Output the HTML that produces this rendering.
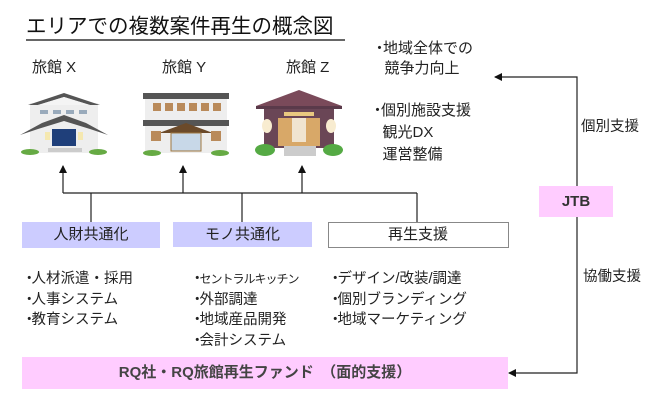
<!DOCTYPE html>
<html><head><meta charset="utf-8"><style>
body{margin:0;background:#fff;}
.t{position:absolute;font-family:"Liberation Sans","Noto Sans CJK JP",sans-serif;color:#222;white-space:nowrap;line-height:1;}
</style></head><body>
<div style="position:relative;width:672px;height:408px;overflow:hidden;">
<svg width="672" height="408" style="position:absolute;left:0;top:0">
<defs><marker id="a" markerWidth="8" markerHeight="8" refX="7" refY="4" orient="auto" markerUnits="userSpaceOnUse"><path d="M0,0 L8,4 L0,8 z" fill="#111"/></marker></defs>
<line x1="26" y1="40" x2="345" y2="40" stroke="#333" stroke-width="1.5"/>
<!-- Building X -->
<g transform="translate(20,93)">
<rect x="10" y="10" width="68" height="50" fill="#eee"/>
<polygon points="8,12 44,0 80,12 70,12 44,4 18,12" fill="#555"/>
<polygon points="18,12 44,4 70,12" fill="#f4f4f4"/>
<rect x="20" y="17" width="8" height="4" fill="#9ab"/><rect x="33" y="17" width="8" height="4" fill="#9ab"/><rect x="46" y="17" width="8" height="4" fill="#9ab"/><rect x="59" y="17" width="8" height="4" fill="#9ab"/>
<polygon points="0,42 22,30 44,22 66,30 88,42 70,36 44,28 18,36" fill="#555"/>
<rect x="32" y="36" width="24" height="17" fill="#1f3f7a"/>
<rect x="25" y="39" width="5" height="8" fill="#f5e8b0"/><rect x="58" y="39" width="5" height="8" fill="#f5e8b0"/>
<rect x="28" y="55" width="34" height="4" fill="#ccc"/>
<ellipse cx="10" cy="59" rx="9" ry="3" fill="#6a4"/><ellipse cx="78" cy="59" rx="9" ry="3" fill="#6a4"/>
</g>
<!-- Building Y -->
<g transform="translate(143,93)">
<rect x="2" y="2" width="82" height="58" fill="#eee"/>
<rect x="0" y="0" width="86" height="6" fill="#555"/>
<rect x="10" y="10" width="8" height="8" fill="#b98a5a"/><rect x="22" y="10" width="8" height="8" fill="#b98a5a"/><rect x="34" y="10" width="8" height="8" fill="#b98a5a"/><rect x="46" y="10" width="8" height="8" fill="#b98a5a"/><rect x="58" y="10" width="8" height="8" fill="#b98a5a"/><rect x="70" y="10" width="8" height="8" fill="#b98a5a"/>
<rect x="0" y="27" width="86" height="6" fill="#555"/>
<polygon points="16,40 43,30 70,40" fill="#6b4a2a"/>
<rect x="28" y="40" width="30" height="18" fill="#c8d8e8" stroke="#a07840"/>
<rect x="8" y="38" width="10" height="10" fill="#b98a5a"/><rect x="68" y="38" width="10" height="10" fill="#b98a5a"/>
<ellipse cx="9" cy="60" rx="9" ry="3" fill="#6a4"/><ellipse cx="77" cy="60" rx="9" ry="3" fill="#6a4"/>
</g>
<!-- Building Z -->
<g transform="translate(256,90)">
<rect x="8" y="14" width="70" height="44" fill="#6a4656"/>
<polygon points="0,16 43,0 86,16" fill="#7a4a5a"/>
<rect x="0" y="16" width="86" height="3" fill="#5a3a4a"/>
<rect x="28" y="22" width="30" height="4" fill="#e8c880"/>
<rect x="22" y="28" width="42" height="28" fill="#d8a868"/>
<rect x="36" y="28" width="14" height="24" fill="#f0e4d0"/>
<ellipse cx="11" cy="36" rx="5" ry="7" fill="#f8ecd0"/><ellipse cx="75" cy="36" rx="5" ry="7" fill="#f8ecd0"/>
<rect x="28" y="56" width="32" height="10" fill="#ccc"/>
<ellipse cx="9" cy="60" rx="10" ry="6" fill="#5a4"/><ellipse cx="77" cy="60" rx="10" ry="6" fill="#5a4"/>
</g>
<g stroke="#222" stroke-width="1.2" fill="none">
<line x1="63" y1="193" x2="417" y2="193"/>
<line x1="63" y1="193" x2="63" y2="166" marker-end="url(#a)"/>
<line x1="183" y1="193" x2="183" y2="166" marker-end="url(#a)"/>
<line x1="302" y1="193" x2="302" y2="166" marker-end="url(#a)"/>
<line x1="91" y1="193" x2="91" y2="222"/>
<line x1="242" y1="193" x2="242" y2="222"/>
<line x1="417" y1="193" x2="417" y2="222"/>
<polyline points="577,186 577,77 495,77" marker-end="url(#a)"/>
<polyline points="577,217 577,373 509,373" marker-end="url(#a)"/>
</g>
<rect x="22" y="222" width="138" height="26" fill="#ccccff"/>
<rect x="173" y="222" width="139" height="25" fill="#ccccff"/>
<rect x="328.5" y="222.5" width="180" height="25" fill="#fff" stroke="#888"/>
<rect x="539" y="186" width="74" height="31" fill="#ffccff"/>
<rect x="22" y="357" width="486" height="32" fill="#ffccff"/>
</svg>
<div class="t" style="left:26px;top:17px;font-size:20.5px;color:#111;">エリアでの複数案件再生の概念図</div>
<div class="t" style="left:32px;top:60px;font-size:15px;">旅館 X</div>
<div class="t" style="left:162px;top:60px;font-size:15px;">旅館 Y</div>
<div class="t" style="left:286px;top:60px;font-size:15px;">旅館 Z</div>
<div class="t" style="left:372px;top:39px;font-size:15px;line-height:20px;"><span style="margin-right:-4px">・</span>地域全体での<br>&nbsp;&nbsp;&nbsp;競争力向上</div>
<div class="t" style="left:370px;top:100px;font-size:15px;line-height:22px;"><span style="margin-right:-4px">・</span>個別施設支援<br>&nbsp;&nbsp;&nbsp;観光DX<br>&nbsp;&nbsp;&nbsp;運営整備</div>
<div class="t" style="left:581px;top:120px;font-size:14.5px;">個別支援</div>
<div class="t" style="left:583px;top:270px;font-size:14.5px;">協働支援</div>
<div class="t" style="left:539px;top:194px;width:74px;text-align:center;font-size:15px;font-weight:bold;color:#333;">JTB</div>
<div class="t" style="left:22px;top:227px;width:138px;text-align:center;font-size:15px;">人財共通化</div>
<div class="t" style="left:173px;top:227px;width:139px;text-align:center;font-size:15px;">モノ共通化</div>
<div class="t" style="left:328px;top:227px;width:180px;text-align:center;font-size:15px;">再生支援</div>
<div class="t" style="left:22px;top:269px;font-size:14.5px;line-height:20.5px;"><span style="margin-right:-5px">・</span>人材派遣・採用<br><span style="margin-right:-5px">・</span>人事システム<br><span style="margin-right:-5px">・</span>教育システム</div>
<div class="t" style="left:190px;top:269px;font-size:14.5px;line-height:20.5px;"><span style="margin-right:-5px">・</span><span style="font-size:12px;letter-spacing:-1px">セントラルキッチン</span><br><span style="margin-right:-5px">・</span>外部調達<br><span style="margin-right:-5px">・</span>地域産品開発<br><span style="margin-right:-5px">・</span>会計システム</div>
<div class="t" style="left:328px;top:269px;font-size:14.5px;line-height:20.5px;"><span style="margin-right:-5px">・</span>デザイン/改装/調達<br><span style="margin-right:-5px">・</span>個別ブランディング<br><span style="margin-right:-5px">・</span>地域マーケティング</div>
<div class="t" style="left:22px;top:365px;width:486px;text-align:center;font-size:15px;font-weight:bold;color:#444;">RQ社・RQ旅館再生ファンド　（面的支援）</div>
</div>
</body></html>
